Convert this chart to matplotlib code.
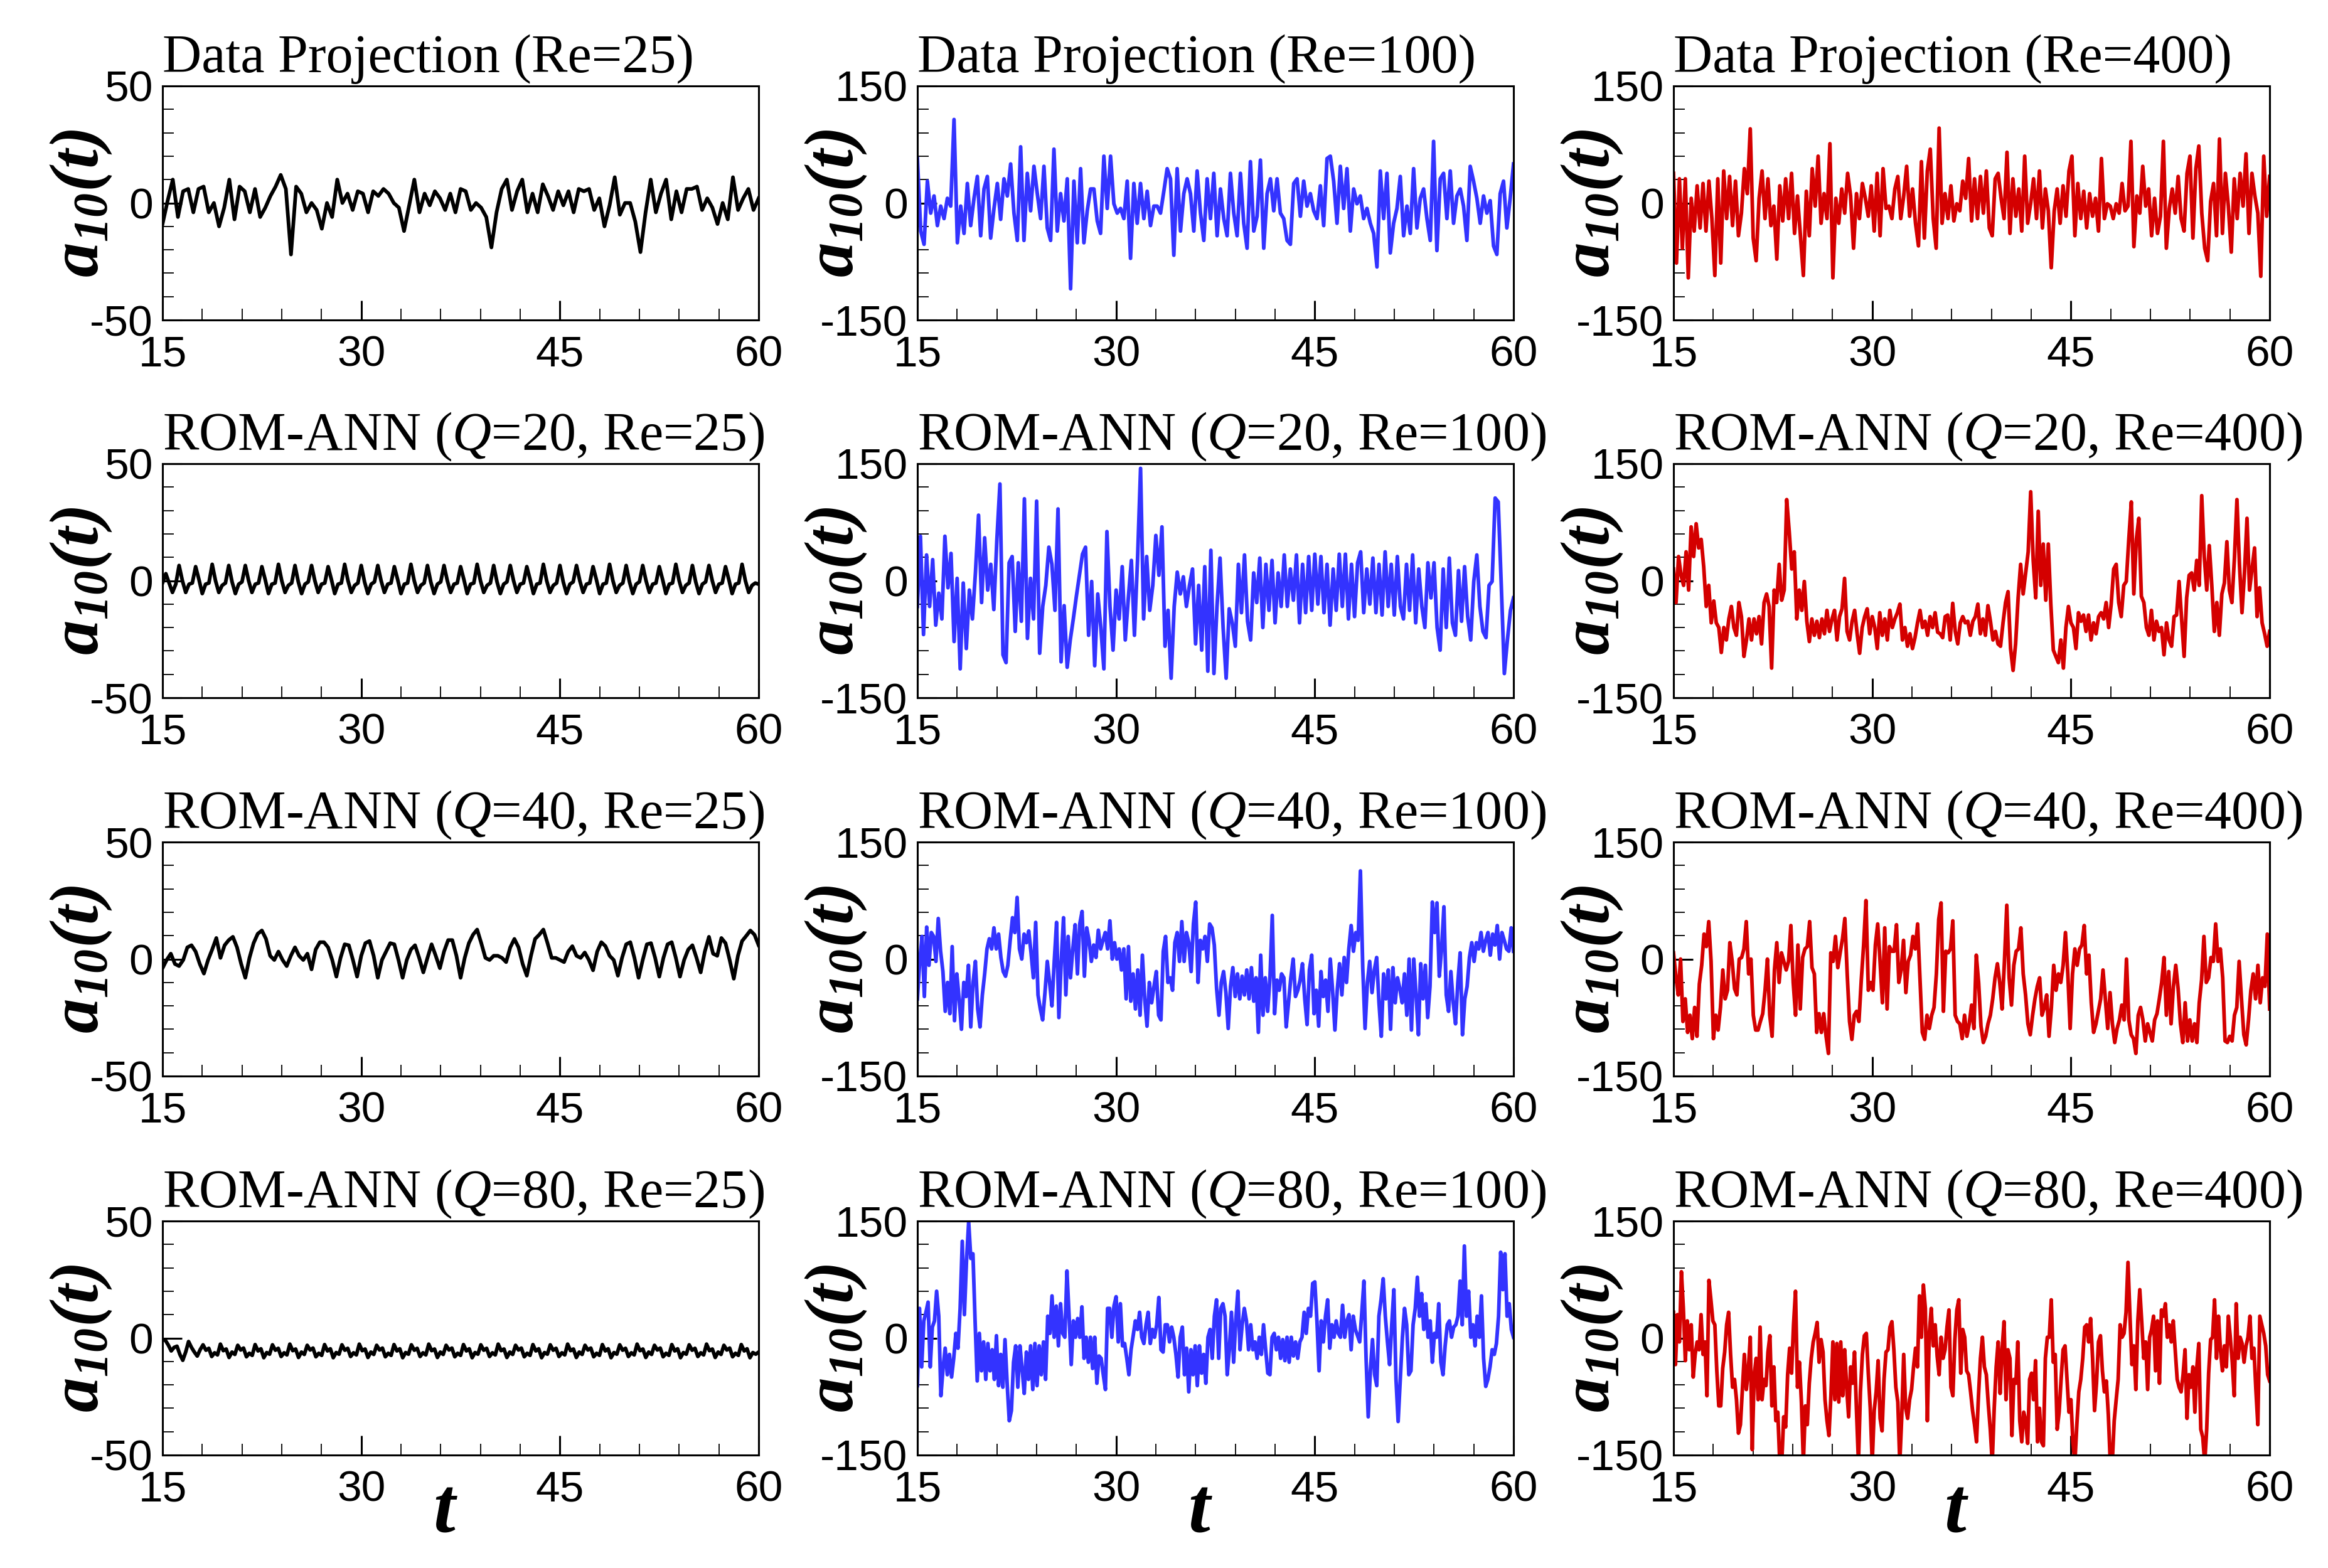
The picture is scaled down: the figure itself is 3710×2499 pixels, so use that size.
import numpy as np
import matplotlib.pyplot as plt

plt.rcParams['font.family'] = 'Liberation Sans'
plt.rcParams['mathtext.fontset'] = 'custom'
plt.rcParams['mathtext.rm'] = 'Liberation Serif'
plt.rcParams['mathtext.it'] = 'Liberation Serif:italic'
plt.rcParams['mathtext.bf'] = 'Liberation Serif:bold'
plt.rcParams['mathtext.bfit'] = 'Liberation Serif:italic:bold'
plt.rcParams['axes.unicode_minus'] = False

dp_25 = [-9, 1, 10, -6, 5, 6, -4, 6, 7, -4, 0, -10, -2, 10, -7, 7, 5, -4, 6, -6,
         -2, 3, 7, 12, 6, -22, 7, 4, -4, 0, -3, -11, 0, -6, 10, 0, 4, -3, 5, 4,
         -4, 5, 3, 6, 4, 0, -2, -12, -1, 10, -4, 4, -1, 5, 2, -3, 4, -4, 6, 5,
         -3, 0, -2, -6, -19, -4, 6, 10, -3, 5, 10, -4, 4, -4, 8, 3, -3, 5, -1, 5,
         -4, 6, 5, 6, -3, 2, -10, -1, 11, -5, 0, 0, -8, -21, -4, 10, -4, 4, 10, -7,
         5, -4, 6, 6, 7, -3, 2, -2, -9, 0, -7, 11, -3, 2, 6, -3, 2]

dp_100 = [57, -36, -53, 28, -13, 9, -29, -4, -20, 6, -4, 107, -51, -4, -39, 25, -29, 6, 34, -42,
          18, 34, -45, -7, 25, -21, 31, 9, 50, -13, -48, 72, -48, 38, -10, 47, 12, -20, 47, -32,
          -48, 69, -36, 12, -23, 31, -110, 28, -51, 44, -51, -10, 18, 18, -23, -39, 60, -7, 60, -1,
          -13, -7, -20, 28, -71, 25, -26, 25, -20, 15, -29, -4, -4, -13, 15, 44, 31, -67, 44, -36,
          12, 31, 12, -36, 41, -13, -48, 31, -20, 38, -42, 18, -20, -42, 38, -13, -42, 38, -26, -58,
          53, -36, -17, 55, -58, 12, 31, -10, 31, -13, -20, -48, -53, 25, 31, -17, 28, -4, 12, -10,
          -20, 22, -29, 57, 60, 28, -26, 47, -7, 44, -36, 18, -1, 9, -20, -7, -26, -39, -82, 41,
          -20, 38, -64, -26, -7, 34, -42, -4, -39, 44, -32, 6, 18, -20, -48, 79, -61, 31, 38, -20,
          41, -26, 9, 18, -4, -48, 47, 28, 6, -26, 9, -13, 3, -55, -66, 12, 28, -32, 6, 50]

dp_400 = [38, -77, 31, -58, 31, -96, 6, -36, 22, -32, 25, -36, 28, -20, -93, 31, -77, 41, -20, 34,
          -29, 28, -42, -13, 44, 12, 95, -45, -74, 6, 41, -20, 31, -29, -4, -72, 22, -23, 31, -20,
          38, -39, 9, -42, -93, 15, -42, 44, -4, 60, -26, 12, -20, 76, -96, 6, -26, 18, -13, 38,
          9, -58, 12, -20, 25, 6, -17, 22, -36, 38, -42, 44, -7, -4, -20, 18, 34, -20, 9, 47,
          -17, 18, -26, -55, 53, -45, 41, 69, -20, -58, 96, -26, 12, -20, 22, -23, -1, -10, 28, 6,
          57, -23, 31, -20, 34, -13, 41, -32, -42, 31, 38, 6, -20, 65, -39, 31, -17, 18, -36, 60,
          -26, -1, 31, -20, 41, -32, 18, -10, -83, -10, 18, -26, 22, -17, 41, 60, -42, 25, -20, 15,
          -32, 12, -17, 6, -36, 57, -20, -1, -4, -20, -1, -13, 25, -10, -4, 79, -56, 9, -13, 47,
          -4, 18, -42, 6, -39, -17, 79, -58, -7, 18, -13, 34, -20, -36, 38, 60, -45, 44, 73, -13,
          -58, -74, 2, 25, -42, 82, -39, 38, -4, -63, 31, -20, 38, -4, 63, -39, 38, 9, -13, -94,
          60, -17, 34]

q20_25 = [-1, 3, -1, -5, -1.5,
          6.5, 0, -5, -1.5, -1, 6, 0.5, -5.5, -1.5, -1, 7, 0, -5, -2, -1, 6.5, -0.5, -5.5, -1.5, -0.5,
          6.5, 0, -5, -1.5, -1, 6, 0.5, -5.5, -1.5, -1, 7, 0, -5, -2, -1, 6.5, -0.5, -5.5, -1.5, -0.5,
          6.5, 0, -5, -1.5, -1, 6, 0.5, -5.5, -1.5, -1, 7, 0, -5, -2, -1, 6.5, -0.5, -5.5, -1.5, -0.5,
          6.5, 0, -5, -1.5, -1, 6, 0.5, -5.5, -1.5, -1, 7, 0, -5, -2, -1, 6.5, -0.5, -5.5, -1.5, -0.5,
          6.5, 0, -5, -1.5, -1, 6, 0.5, -5.5, -1.5, -1, 7, 0, -5, -2, -1, 6.5, -0.5, -5.5, -1.5, -0.5,
          6.5, 0, -5, -1.5, -1, 6, 0.5, -5.5, -1.5, -1, 7, 0, -5, -2, -1, 6.5, -0.5, -5.5, -1.5, -0.5,
          6.5, 0, -5, -1.5, -1, 6, 0.5, -5.5, -1.5, -1, 7, 0, -5, -2, -1, 6.5, -0.5, -5.5, -1.5, -0.5,
          6.5, 0, -5, -1.5, -1, 6, 0.5, -5.5, -1.5, -1, 7, 0, -5, -2, -1, 6.5, -0.5, -5.5, -1.5, -0.5,
          6.5, 0, -5, -1.5, -1, 6, 0.5, -5.5, -1.5, -1, 7, 0, -5, -2, -1,
          -1.5]

q20_100 = [-33, 57, -69, 33, -33, 27, -57, -16, -49, 57, -9, 35, -78, 3, -113, -3, -87, -12, -49, 11,
           84, -28, 55, -12, 21, -37, 53, 124, -95, -105, 23, 31, -65, 23, -52, 105, -74, 3, -49, 102,
           -93, -33, -6, 43, 21, -38, 92, -104, -32, -111, -76, -49, -20, 7, 34, 43, -70, -1, -109, -17,
           -60, -113, 63, -33, -89, -12, -49, 18, -76, -22, 26, -70, 26, 144, -49, 31, -38, -6, 58, 7,
           69, -84, -38, -125, -33, 11, -17, 5, -33, -6, 15, -81, -6, -89, 18, -116, 39, -119, -33, 29,
           -60, -125, -36, -54, -84, 21, -41, 33, -52, -76, 10, -28, 29, -60, 21, -38, 26, -54, 10, -33,
           33, -33, 15, -25, 33, -54, 21, -41, 31, -38, 34, -30, 31, -41, 21, -57, 15, -38, 34, -33,
           34, -49, 21, -46, 23, 37, -41, 15, -30, 29, -41, 21, -44, 37, -33, 21, -44, 31, -33, -49,
           21, -38, 33, -54, 15, -33, -60, 23, -22, 23, -60, -89, 15, -60, 29, -54, -70, 13, -52, 18,
           -46, -76, -1, 33, -33, -65, -73, -6, -1, 106, 101, -6, -119, -76, -38, -22]

q20_400 = [15, -28, 31, 7, -6, 37, -12, 69, 31, 73, 42, 53, 18, -33, -6, -54, -26, -54, -60, -92,
           -60, -76, -49, -33, -60, -70, -28, -46, -97, -76, -49, -76, -49, -68, -46, -81, -28, -17, -33, -112,
           -12, -28, 21, -25, -12, 104, 63, 15, 37, -49, -12, -38, -1, -52, -78, -49, -70, -52, -73, -49,
           -68, -38, -65, -49, -38, -76, -46, -36, 3, -65, -76, -52, -38, -68, -93, -60, -46, -36, -68, -46,
           -60, -87, -41, -70, -49, -76, -38, -60, -49, -41, -30, -76, -60, -84, -68, -87, -73, -54, -38, -60,
           -52, -70, -46, -60, -41, -66,
           -68, -73, -46, -44, -76, -29, -65, -81, -54, -46, -54, -52, -70, -52, -46, -30, -68, -49, -70, -32,
           -52, -76, -65, -81, -84, -54, -28, -14, -87, -115, -81, -22, 21, -17, 10, 37, 114, 26, -22, 89,
           -6, 47, -25, 47, -30, -89, -97, -105, -76, -112, -60, -33, -54, -60, -87, -41, -52, -44, -65, -44,
           -76, -54, -68, -46, -41, -49, -28, -60, -30, 15, 21, -28, -46, -6, -1, 53, 101, -17, 53, 80,
           -20, -28, -60, -70, -38, -76, -52, -65, -60, -95, -54, -76, -84, -46, -44, -1, -49, -97, -22, 7,
           10, -12, 26, -6, 109, 31, -12, 45, -6, -65, -28, -70, -17, -3, 50, -12, -28, 29, 104, 21,
           -41, 10, 80, -12, 15, 42, -46, -9, -54, -68, -84, -65]

q40_25 = [-3.9, -0.4, 2.3, -2.1, -3, -0.4, 5, 5.9, 3.2, -2.1, -6.2, -0.4, 4.1, 9, 0.5, 5.9, 8.1, 9.5, 5, -2.1,
          -8, 0.5, 6.8, 10.8, 12.2, 8.6, 1.4, -0.4, 3.2, -0.4, -3, 1.4, 5, 1.4, -0.4, 2.3, -4.4, 4.1, 7.2, 7.2,
          5, -0.4, -7.5, 0.5, 6.3, 5.9, -0.4, -7.5, 1.4, 6.8, 7.7, 1.4, -8, -0.4, 3.2, 6.8, 6.3, -0.4, -8, -0.4,
          4.1, 5.9, 0.5, -5.7, 0.5, 6.3, 1.4, -3.9, 3.2, 8.1, 8.1, 1.4, -8, 0.5, 6.8, 10.4, 12.6, 6.8, 0.5, -0.4,
          1.4, 1.4, 0.5, -1.3, 5, 8.6, 5, -2.1, -7.1, 1.4, 8.6, 10.4, 12.6, 6.8, 0.5, 0.5, -0.4, -1.3, 3.2, 5.5,
          1.4, 0.5, 2.8, -0.4, -4.8, 3.2, 7.2, 5.5, 1.4, -0.4, -7.1, 0.5, 6.3, 7.2, 0.5, -8, -0.4, 6.3, 6.8, 0.5,
          -7.5, 0.5, 6.3, 7.2, 0.5, -7.5, -0.4, 4.1, 5.9, 0.5, -5.7, 3.2, 9.5, 2.3, 1.4, 9, 6.8, -0.4, -8.4, 1.4,
          7.7, 9.9, 12.2, 10.4, 5.9]

q40_100 = [-51, -3, 29, -48, 41, -8, 34, 29, -3, 52, 10, -16, -67, -30, -70, 16, -79, -19, -51, -90,
           -30, -48, -8, -87, -30, -3, -64, -87, -46, -19, 13, 26, 13, 40, 13, 32, 2, -16, -22, -8,
           24, 53, 34, 79, 13, 0, 32, 21, 36, 8, -24, 47, -46,
           -64, -78, -43, -3, -30, -60, -3, 47, -75, -3, 53, -46, 29, -24, 13, 44, -19, 45, 61, -22,
           40, 24, -3, 18, 2, 37, 13, 24, 34, 13, 49, 0, 21, 0, 13, -14, 13, -51, 16, -54,
           -19, -64, -14, -72, 5, -51, -86, -30, -56, -35, -16, -72, -78, 10, 29, -30, -24, -40, 21, 34,
           -3, 48, -3, 34, 21, -16, 45, 73, -30, 24, 13, 29, -3, 45, 40, 18, -38, -72, -30, -16,
           -43, -89, -35, -11, -48, -19, -51, -22, -46, -14, -51, -11, -54, -24, -94, 5, -72, -24, -67, -24,
           56, -70, -27, -40, -19, -24, -87, -56, -24, 0, -48, -40, -27, -6, -51, -84, -14, 5, -70, -40,
           -86, -16, -48, -27, -67, 0, -40, -91, -40, -6, -46, 2, -30, 13, 43, 10, 34, 24, 113, -11,
           -89, -30, -3, -43, -14, 2, -56, -99, -19, -51, -14, -90, -11, -56, -24, -38, -56, -19, -72, 0,
           -91, 0, -46, -97, -6, -51, -8, -75, -35, 73, 34, 72, -22, 13, 67, -46, -67, -16, -56, -83,
           -30, 8, -97, -51, -35, 2, 21, -3, 21, 13, 34, 10, 24, 34, 5, 32, 18, 43, 0, 34,
           24, 13, 10, 40, 10]

q40_400 = [8, -22, -46, 0, -80, -51, -94, -72, -102, -62, -99, -32, -8, 32, 16,
           48, -3, -102, -72, -91, -62, -14,
           -51, -40, 21, -3, -38, -46, 0, 2, 13, 48, -19, 0, -72, -91, -91, -80, -70, -40, 0, -72,
           -99, -14, 21, -30, 8, -3, -14, -3, 43, -30, -72, 18, -64, 2, 13, 16, 48, -11, -19, -94,
           -70, -94, -70, -99, -121, 8, -3, 29, -11, 8, 26, 52, -19, -80, -103, -72, -67, -80, -27, 18,
           75, -40, -30, -40, 18, 45, -3, -56, 40, -64, 16, 10, 10, 44, -30, -14, 24, -43, -3, 5,
           29, 13, 45, -24, -94, -103, -72, -89, -72, -62, -19, 51, 72, -67, 10, 8, 13, 49, -72, -80,
           -83, -102, -72, -99, -83, -59, -89, 5, -30, -86, -107, -99, -83, -72, -51, -24, -6, -30, -64, -3,
           69, -24, -59, -8, 10, 13, 40, -19, -46, -83, -97, -72, -51, -35, -24, -72, -62, -46, -99, -62,
           -8, -40, -19, -30, -8, 34, -19, -89, -19, 13, -8, 13, 18, 43, -19, 5, -56, -94, -83, -67,
           -51, -14, -51, -89, -43, -83, -107, -89, -78, -59, -78, 0, -78, -97, -102, -121, -72, -62, -78, -105,
           -83, -94, -105, -78, -70, -51, -30, 2, -72, -16, -83, -35, -8, -38, -83, -107, -56, -105, -78, -105,
           -83, -107, -56, -27, 29, -30, -24, 2, -3, 45, -3, 13, -24, -105, -107, -99, -105, -72, -62, -3,
           -51, -97, -110, -78, -40, -19, -51, -8, -56, -24, -35, 32, -64]

q80_25 = [-0.6, -1, -3, -5.5, -4, -3.5, -7, -9.5, -6, -1.5, -4, -6, -7.7, -5,
          -2.9, -5.2, -4.4, -7.9, -6.3, -7.2, -2.6, -5.4, -4.7, -8.3, -6, -7, -3.1, -5.1, -4.3, -8, -6.5, -7.4, -2.8, -5.5, -4.6, -8.4, -6.2, -6.9,
          -2.9, -5.2, -4.4, -7.9, -6.3, -7.2, -2.6, -5.4, -4.7, -8.3, -6, -7, -3.1, -5.1, -4.3, -8, -6.5, -7.4, -2.8, -5.5, -4.6, -8.4, -6.2, -6.9,
          -2.9, -5.2, -4.4, -7.9, -6.3, -7.2, -2.6, -5.4, -4.7, -8.3, -6, -7, -3.1, -5.1, -4.3, -8, -6.5, -7.4, -2.8, -5.5, -4.6, -8.4, -6.2, -6.9,
          -2.9, -5.2, -4.4, -7.9, -6.3, -7.2, -2.6, -5.4, -4.7, -8.3, -6, -7, -3.1, -5.1, -4.3, -8, -6.5, -7.4, -2.8, -5.5, -4.6, -8.4, -6.2, -6.9,
          -2.9, -5.2, -4.4, -7.9, -6.3, -7.2, -2.6, -5.4, -4.7, -8.3, -6, -7, -3.1, -5.1, -4.3, -8, -6.5, -7.4, -2.8, -5.5, -4.6, -8.4, -6.2, -6.9,
          -2.9, -5.2, -4.4, -7.9, -6.3, -7.2, -2.6, -5.4, -4.7, -8.3, -6, -7, -3.1, -5.1, -4.3, -8, -6.5, -7.4, -2.8, -5.5, -4.6, -8.4, -6.2, -6.9,
          -2.9, -5.2, -4.4, -7.9, -6.3, -7.2, -2.6, -5.4, -4.7, -8.3, -6, -7, -3.1, -5.1, -4.3, -8, -6.5, -7.4, -2.8, -5.5, -4.6, -8.4, -6.2, -6.9,
          -2.9, -5.2, -4.4, -7.9, -6.3, -7.2, -2.6, -5.4, -4.7, -8.3, -6, -7, -3.1, -5.1, -4.3, -8, -6.5, -7.4, -2.8, -5.5, -4.6, -8.4, -6.2, -6.9,
          -6]

q80_100 = [-61, 38, -37, 22, 33, 46, -37, 14, 22, 60, 28, -74, -39, -13, -47, -21,
           -50, -26, 6, -13, 38, 124, 30, 100, 149, 102, 108, 22, -55, 6, -42, -5, -53, -7, -42, -15,
           -53, 3, -61, -21, -63, -2, -58, -106, -93, -31, -10, -63, -10, -39, -71, -18, -53, -10, -66, -7,
           -61, -10, -47, -5, -53, 28, 6, 54, 1, 41, -10, 44, 6, 1, 86, 28, -34, 22, 1, 25,
           1, 40, -26, 1, -31, 1, -39, 1, -58, -23, -26, -47, -66, 38, 38, 1, 41, 53, -5, 44,
           -10, -7, -26, -47, -15, 3, 22, 11, 33, 1, -7, 17, 33, -7, 11, 1, 17, 52, -15, -18,
           17, 17, -5, 14, 1, -21, -50, 1, 14, -47, -13, -69, -15, -47, -10, -61, -10, -45, -21, -58,
           1, 11, -26, 28, 49, -26, 38, 44, 28, -47, -15, 33, -31, 22, 60, -15, 17, 38, 22, -15,
           17, -15, -5, -26, 1, -21, 17, -15, -45, -47, 1, 6, -15, 1, -26, -2, -29, 1, -31, 1,
           -23, -5, -26, -5, 1, 33, 6, 38, 28, 70, 72, 22, -42, 22, -5, 28, 49, -13, 17, 1,
           22, 6, 1, 42, 1, 22, 30, -15, 28, 11, 3, -5, 33, 73, -26, -101, -42, -2, -47, -61,
           28, 49, 76, 28, -5, -34, 17, 62, -53, -107, -53, 1, 38, 17, -47, -42, 17, 38, 78, 28,
           57, 11, 44, 1, 22, -31, 6, 1, 44, -31, -47, -10, 17, 22, 1, 14, 17, 28, 73, 17,
           118, 28, 60, 1, 17, -10, 28, 1, 54, -26, -62, -53, -37, -15, -21, -7, 28, 110, 62, 108,
           28, 44, 11, 1]

q80_400 = [33, -34, 30, -5, 85, 38, -29, 22, -15, 17, -50, -21, -5, -15, 30, -21, -5, -74, 74, 49,
           22, 17, -42, -87, -87, -39, -18, 17, 33, -21, -63, -53, -79, -122, -111, -66, -21, -66, -42, 1,
           -143, -47, -26, -79, 14, -79, -53, -61, -18, 3, -87, -37, -106, -95, -160, -160, -101, -114, -47, -13,
           -45, 17, 60, -63, -31, -82, -160, -87, -111, -58, -26, -5, 6, 20, -31, -2, -18, -79, -106, -125,
           -74, -5, -79, -7, -82, -5, -74, -15, -63, -101, -37, -58, -18, -93, -160, -69, -21, 3, 6, -45,
           -90, -160, -93, -69, -29, -103, -119, -53, -18, -15, 14, 21, -15, -63, -82, -160, -101, -21, -90, -103,
           -79, -66, -37, -13, -37, 54, 1, 68, 38, -106, 6, 38, -10, 17, -23, -47, 1, -26, -15, 14,
           36, -63, -74, -2, 36, 49, -45, 11, 1, -42, -47, -69, -93, -111, -133, -74, -26, 1, -37, -47,
           -85, -117, -160, -90, -37, -5, -71, -15, 21, -79, -15, -26, -125, -53, -58, -5, -106, -133, -95, -106,
           -135, -53, -45, -79, -29, -133, -90, -133, -138, -26, 1, 1, 49, -31, -21, -117, -95, -53, -15, -10,
           -53, -95, -79, -133, -160, -111, -69, -53, -26, 14, 17, -5, 25, -26, -93, -58, -5, 3, -42, -69,
           -55, -98, -160, -160, -106, -79, -53, 17, 1, 6, 33, 97, 28, -34, -10, -66, 22, 62, 20, -26,
           -5, -66, 1, 11, 28, -42, 22, -58, 36, 28, 44, 1, 17, -5, 22, -15, -53, -63, -69, -47,
           -15, -103, -47, -63, -37, -95, -37, -7, -117, -127, -160, -117, -45, -2, 1, 49, -26, 28, -15, -42,
           -10, -37, 28, 1, -31, -74, 44, -26, 1, -7, -31, -10, 1, 28, -26, -13, -66, -111, 28, 17,
           6, -10, -47, -55]

series = [[dp_25, dp_100, dp_400],
          [q20_25, q20_100, q20_400],
          [q40_25, q40_100, q40_400],
          [q80_25, q80_100, q80_400]]
row_titles = ['Data Projection', 'ROM-ANN ($\\mathit{Q}$=20,', 'ROM-ANN ($\\mathit{Q}$=40,', 'ROM-ANN ($\\mathit{Q}$=80,']
re_values = [25, 100, 400]
colors = ['#000000', '#3333FF', '#D40000']
ylims = [50, 150, 150]

fig = plt.figure(figsize=(37.1, 24.99), dpi=100)

col_left = [259 / 3710, 1462 / 3710, 2667 / 3710]
row_bottom = [1 - 510 / 2499, 1 - 1112 / 2499, 1 - 1715 / 2499, 1 - 2319 / 2499]
w = 950 / 3710
h = 373 / 2499

for r in range(4):
    for c in range(3):
        ax = fig.add_axes([col_left[c], row_bottom[r], w, h])
        vals = series[r][c]
        t = np.linspace(15, 60, len(vals))
        ax.plot(t, vals, color=colors[c], lw=4.2)
        lim = ylims[c]
        ax.set_xlim(15, 60)
        ax.set_ylim(-lim, lim)
        ax.set_xticks([15, 30, 45, 60])
        ax.set_xticks(np.arange(15, 61, 3), minor=True)
        ax.set_yticks([-lim, 0, lim])
        ax.set_yticks(np.arange(-lim, lim + 1, lim / 5), minor=True)
        ax.set_yticklabels([str(-lim), '0', str(lim)])
        ax.tick_params(which='both', direction='in', top=False, right=False)
        ax.tick_params(which='major', length=22, width=2.2, labelsize=50)
        ax.tick_params(which='minor', length=13, width=1.3)
        ax.tick_params(axis='x', pad=17)
        ax.tick_params(axis='y', pad=11)
        for s in ax.spines.values():
            s.set_linewidth(2.2)

        if r == 0:
            title = 'Data Projection (Re=%d)' % re_values[c]
        else:
            title = row_titles[r] + ' Re=%d)' % re_values[c]
        ax.text(0, 1 + 22 / 373, title, transform=ax.transAxes, ha='left', va='baseline',
                fontsize=62, family='Liberation Serif')
        ax.text(-130 / 950, 0.5, r'$\mathbfit{a}_{\mathbfit{10}}\mathbfit{(t)}$', transform=ax.transAxes,
                rotation=90, ha='center', va='center', fontsize=80)
        if r == 3:
            ax.text(0.475, -90 / 373, r'$\mathbfit{t}$', transform=ax.transAxes,
                    ha='center', va='center', fontsize=90)

fig.savefig('out.png', dpi=100)
